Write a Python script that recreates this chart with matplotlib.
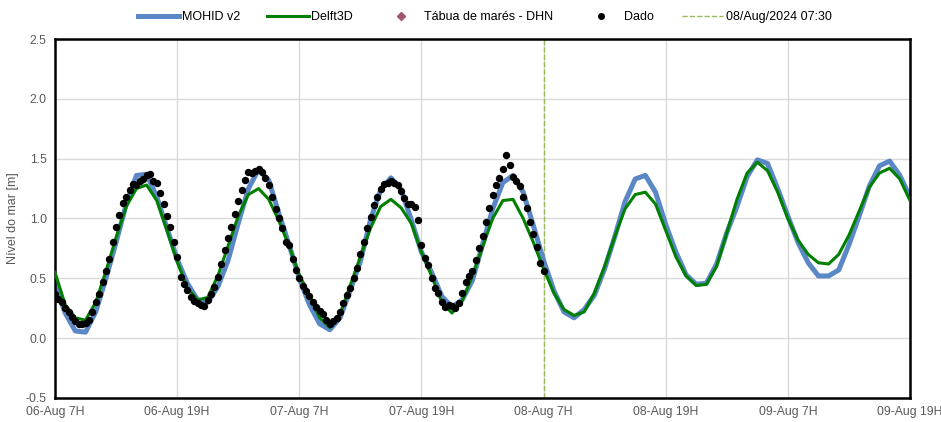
import numpy as np
import pandas as pd
import matplotlib
matplotlib.use("Agg")
import matplotlib.pyplot as plt
from matplotlib.lines import Line2D

plt.rcParams['font.family'] = ['Liberation Sans Narrow', 'Liberation Sans', 'DejaVu Sans']

# hourly model series, 06-Aug 07:30 -> 09-Aug 19:30
mohid = [0.45, 0.21, 0.06, 0.05, 0.22, 0.50, 0.80, 1.12, 1.36, 1.37,
         1.18, 0.92, 0.66, 0.46, 0.32, 0.30, 0.43, 0.65, 0.96, 1.25,
         1.41, 1.32, 1.04, 0.78, 0.50, 0.28, 0.12, 0.07, 0.17, 0.40,
         0.64, 0.99, 1.24, 1.34, 1.24, 0.99, 0.72, 0.55, 0.35, 0.26,
         0.32, 0.48, 0.78, 1.08, 1.30, 1.36, 1.22, 0.94, 0.65, 0.40,
         0.22, 0.17, 0.24, 0.36, 0.58, 0.85, 1.14, 1.33, 1.36, 1.22,
         0.95, 0.72, 0.53, 0.45, 0.46, 0.62, 0.88, 1.10, 1.35, 1.49,
         1.46, 1.25, 1.02, 0.80, 0.63, 0.52, 0.52, 0.57, 0.78, 1.02,
         1.27, 1.44, 1.48, 1.36, 1.18]
delft = [0.55, 0.28, 0.17, 0.15, 0.30, 0.56, 0.84, 1.10, 1.25, 1.28,
         1.15, 0.90, 0.64, 0.42, 0.32, 0.34, 0.52, 0.77, 1.02, 1.20,
         1.25, 1.16, 0.98, 0.77, 0.53, 0.36, 0.17, 0.09, 0.20, 0.44,
         0.68, 0.92, 1.10, 1.16, 1.09, 0.96, 0.72, 0.52, 0.30, 0.21,
         0.31, 0.52, 0.76, 1.00, 1.15, 1.16, 1.00, 0.80, 0.58, 0.38,
         0.24, 0.19, 0.22, 0.38, 0.60, 0.85, 1.08, 1.20, 1.22, 1.12,
         0.90, 0.68, 0.52, 0.44, 0.45, 0.60, 0.88, 1.16, 1.38, 1.47,
         1.40, 1.22, 1.00, 0.82, 0.70, 0.63, 0.62, 0.70, 0.86, 1.06,
         1.26, 1.38, 1.42, 1.33, 1.15]

# observations every 20 min, 06-Aug 07:30 -> 08-Aug 07:30
dado = [0.37, 0.33, 0.30, 0.25, 0.22, 0.18, 0.14, 0.12, 0.12, 0.13,
        0.15, 0.22, 0.30, 0.37, 0.47, 0.56, 0.66, 0.80, 0.93, 1.03,
        1.13, 1.18, 1.24, 1.29, 1.28, 1.31, 1.33, 1.36, 1.37, 1.31,
        1.30, 1.21, 1.12, 1.02, 0.93, 0.80, 0.68, 0.51, 0.45, 0.40,
        0.34, 0.31, 0.29, 0.28, 0.27, 0.32, 0.37, 0.43, 0.51, 0.62,
        0.74, 0.84, 0.93, 1.04, 1.15, 1.24, 1.32, 1.39, 1.38, 1.40,
        1.41, 1.39, 1.34, 1.28, 1.18, 1.08, 1.00, 0.92, 0.80, 0.78,
        0.66, 0.57, 0.50, 0.44, 0.39, 0.35, 0.30, 0.26, 0.23, 0.20,
        0.15, 0.12, 0.14, 0.17, 0.22, 0.29, 0.36, 0.42, 0.50, 0.59,
        0.70, 0.80, 0.92, 1.01, 1.11, 1.18, 1.25, 1.29, 1.30, 1.31,
        1.30, 1.28, 1.23, 1.17, 1.12, 1.12, 1.10, 0.99, 0.78, 0.67,
        0.61, 0.50, 0.42, 0.38, 0.30, 0.26, 0.28, 0.27, 0.25, 0.29,
        0.38, 0.47, 0.52, 0.56, 0.65, 0.75, 0.85, 0.97, 1.09, 1.20,
        1.28, 1.34, 1.41, 1.53, 1.45, 1.35, 1.31, 1.27, 1.18, 1.09,
        0.97, 0.87, 0.76, 0.63, 0.56]

tick_labels = ['06-Aug 7H', '06-Aug 19H', '07-Aug 7H', '07-Aug 19H',
               '08-Aug 7H', '08-Aug 19H', '09-Aug 7H', '09-Aug 19H']

start = pd.Timestamp('2024-08-06 07:30')
t_model = pd.date_range(start, periods=len(mohid), freq='1h')
t_dado = pd.date_range(start, periods=len(dado), freq='20min')
t_now = pd.Timestamp('2024-08-08 07:30')
ticks = pd.date_range(start, periods=len(tick_labels), freq='12h')

fig = plt.figure(figsize=(9.41, 4.22), dpi=100)
ax = fig.add_axes([55/941, 1-398/422, 855/941, 359/422])

ax.plot(t_model, mohid, color='#5a87c5', lw=3.6, zorder=2,
        solid_capstyle='round', solid_joinstyle='round')
ax.plot(t_model, delft, color='#008000', lw=2.2, zorder=3, solid_joinstyle='round')
ax.plot(t_dado, dado, 'o', color='black', ms=4.3, zorder=4)
ax.axvline(t_now, color='#9bbb59', ls='--', lw=1, zorder=1)

ax.set_xlim(t_model[0], t_model[-1])
ax.set_ylim(-0.5, 2.5)
ax.set_yticks(np.arange(-0.5, 2.51, 0.5))
ax.set_yticklabels([f'{v:.1f}' for v in np.arange(-0.5, 2.51, 0.5)])
ax.set_xticks(ticks)
ax.set_xticklabels(tick_labels)
ax.tick_params(length=0, labelsize=8.8, colors='#595959', pad=6)
ax.grid(True, color='#d9d9d9', lw=1)
ax.set_axisbelow(True)
for s in ax.spines.values():
    s.set_color('black')
    s.set_linewidth(1.8)
ax.set_ylabel('Nível do mar [m]', color='#595959', fontsize=9, labelpad=5)

handles = [
    Line2D([], [], color='#5a87c5', lw=3.6),
    Line2D([], [], color='#008000', lw=2.2),
    Line2D([], [], color='#a0566f', marker='D', ls='none', ms=4.5),
    Line2D([], [], color='black', marker='o', ls='none', ms=4),
    Line2D([], [], color='#9bbb59', ls='--', lw=1),
]
labels = ['MOHID v2', 'Delft3D', 'Tábua de marés - DHN', 'Dado', '08/Aug/2024 07:30']
fig.legend(handles, labels, loc='center', bbox_to_anchor=(0.515, 1-17/422), ncol=5,
           frameon=False, fontsize=9, handlelength=3.3, handletextpad=0.2,
           columnspacing=2.2, labelcolor='black')

fig.savefig('out.png', dpi=100)
